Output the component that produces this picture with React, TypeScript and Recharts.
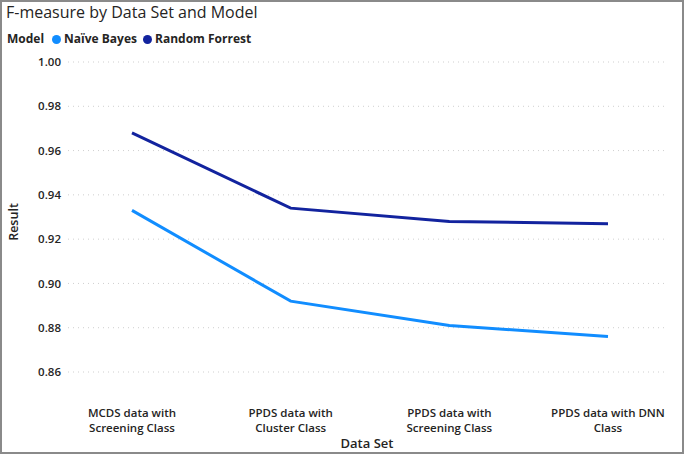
import { LineChart, Line, XAxis, YAxis, CartesianGrid } from "recharts";

const dataSets = [
  "MCDS data with\nScreening Class",
  "PPDS data with\nCluster Class",
  "PPDS data with\nScreening Class",
  "PPDS data with DNN\nClass",
];
const naiveBayes = [0.933, 0.892, 0.881, 0.876];
const randomForrest = [0.968, 0.934, 0.928, 0.927];
const yTicks = [0.86, 0.88, 0.9, 0.92, 0.94, 0.96, 0.98, 1.0];

const data = dataSets.map((name, i) => ({
  name,
  nb: naiveBayes[i],
  rf: randomForrest[i],
}));

const FONT = "'Open Sans', 'Noto Sans', sans-serif";
const NB_COLOR = "#118DFF";
const RF_COLOR = "#12239E";

function CategoryTick(props: any) {
  const { x, y, payload } = props;
  const lines = String(payload.value).split("\n");
  return (
    <text
      x={x}
      y={y}
      textAnchor="middle"
      fontFamily={FONT}
      fontSize={11.5}
      fontWeight={600}
      fill="#252423"
    >
      {lines.map((l, i) => (
        <tspan key={i} x={x} dy={i === 0 ? 45 : 15}>
          {l}
        </tspan>
      ))}
    </text>
  );
}

export default function App() {
  return (
    <div
      style={{
        position: "absolute",
        left: 0,
        top: 0,
        width: 685,
        height: 455,
        background: "#fff",
        fontFamily: FONT,
      }}
    >
      <LineChart
        width={685}
        height={455}
        data={data}
        margin={{ top: 62, right: 19, bottom: 0, left: 8 }}
      >
        <CartesianGrid
          vertical={false}
          stroke="#cfcfcf"
          strokeDasharray="1 4"
        />
        <XAxis
          dataKey="name"
          axisLine={false}
          tickLine={false}
          tickSize={0}
          tickMargin={0}
          height={83}
          interval={0}
          padding={{ left: 64, right: 58 }}
          tick={<CategoryTick />}
          label={{
            value: "Data Set",
            position: "insideBottom",
            offset: 7,
            fontFamily: FONT,
            fontSize: 13,
            fontWeight: 600,
            fill: "#252423",
          }}
        />
        <YAxis
          domain={[0.86, 1.0]}
          ticks={yTicks}
          width={60}
          axisLine={false}
          tickLine={false}
          tickSize={0}
          tickMargin={7}
          tickFormatter={(v: number) => v.toFixed(2)}
          tick={{ fontFamily: FONT, fontSize: 11.5, fontWeight: 600, fill: "#252423" }}
          label={{
            content: () => (
              <text
                x={13}
                y={222}
                transform="rotate(-90 13 222)"
                textAnchor="middle"
                dominantBaseline="central"
                fontFamily={FONT}
                fontSize={12.5}
                fontWeight={600}
                fill="#252423"
              >
                Result
              </text>
            ),
          }}
        />
        <Line
          type="linear"
          dataKey="nb"
          name="Naïve Bayes"
          stroke={NB_COLOR}
          strokeWidth={3}
          dot={false}
          isAnimationActive={false}
        />
        <Line
          type="linear"
          dataKey="rf"
          name="Random Forrest"
          stroke={RF_COLOR}
          strokeWidth={3}
          dot={false}
          isAnimationActive={false}
        />
      </LineChart>
      <div
        style={{
          position: "absolute",
          left: 6,
          top: 1,
          fontSize: 16,
          fontWeight: 500,
          color: "#252423",
          lineHeight: "22px",
        }}
      >
        F-measure by Data Set and Model
      </div>
      <div
        style={{
          position: "absolute",
          left: 7,
          top: 30,
          fontSize: 12,
          fontWeight: 700,
          color: "#252423",
          lineHeight: "18px",
          display: "flex",
          alignItems: "center",
          whiteSpace: "nowrap",
        }}
      >
        <span style={{ marginRight: 8 }}>Model</span>
        <span
          style={{
            width: 9,
            height: 9,
            borderRadius: "50%",
            background: NB_COLOR,
            marginRight: 3,
          }}
        />
        <span style={{ marginRight: 6 }}>Naïve Bayes</span>
        <span
          style={{
            width: 9,
            height: 9,
            borderRadius: "50%",
            background: RF_COLOR,
            marginRight: 3,
          }}
        />
        <span>Random Forrest</span>
      </div>
      <div
        style={{
          position: "absolute",
          left: 0,
          top: 0,
          width: 684,
          height: 454,
          boxSizing: "border-box",
          border: "2px solid #8a8a8a",
          pointerEvents: "none",
        }}
      />
    </div>
  );
}
